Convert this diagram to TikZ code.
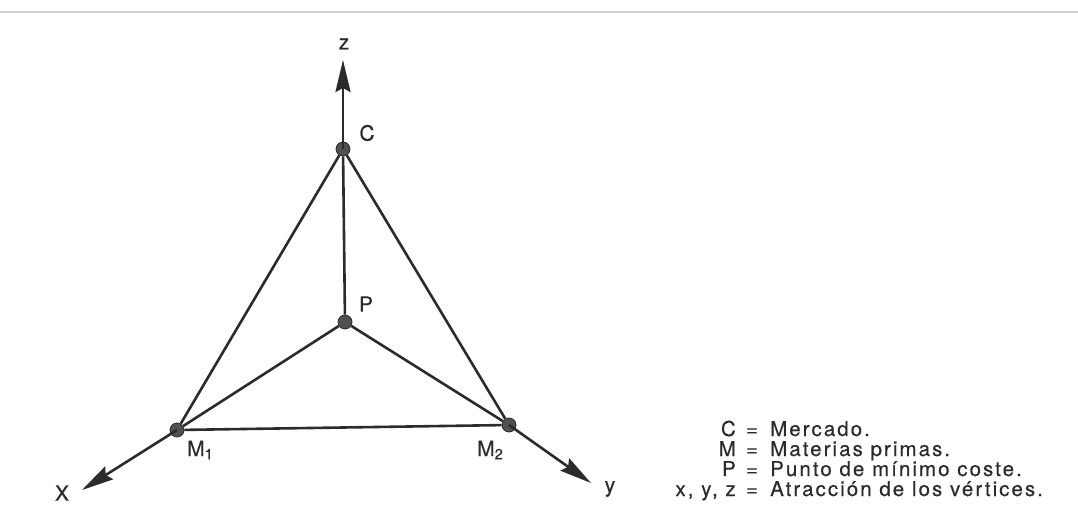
\documentclass[tikz,border=0pt]{standalone}
\usepackage{fontspec}
\setmainfont{TeX Gyre Heros}[LetterSpace=10,FakeBold=0.4]
\usetikzlibrary{arrows.meta}
\definecolor{ink}{HTML}{2B2B2B}
\definecolor{dotfill}{HTML}{505050}
\tikzset{
  edge/.style={draw=ink, line width=2.6pt},
  axis/.style={draw=ink, line width=2.6pt, -{Stealth[length=32pt,width=15pt,inset=4pt]}},
  vertex/.style={circle, fill=dotfill, draw=ink, line width=0.8pt, minimum size=14pt, inner sep=0pt},
  lbl/.style={font=\fontsize{21}{24}\selectfont, text=ink, inner sep=0pt},
  leg/.style={font=\fontsize{20.5}{24}\selectfont, text=ink, inner sep=0pt, text height=14.5pt, text depth=3pt},
}
\begin{document}
\begin{tikzpicture}[x=1pt,y=-1pt]
\useasboundingbox (0,0) rectangle (1078,529);
\draw[gray!35, line width=2pt] (0,12) -- (1078,12);
% points
\node[vertex] (C) at (343,149) {};
\node[vertex] (P) at (345,322) {};
\node[vertex] (M1) at (177,430) {};
\node[vertex] (M2) at (509,425) {};
\coordinate (zt) at (343,60);
\coordinate (xt) at (82,490);
\coordinate (yt) at (591,483);
% edges
\draw[edge] (C) -- (M1);
\draw[edge] (C) -- (M2);
\draw[edge] (M1) -- (M2);
\draw[edge] (C) -- (P);
\draw[edge] (P) -- (M1);
\draw[edge] (P) -- (M2);
% axes
\draw[axis] (C.center) -- (zt);
\draw[axis] (M1.center) -- (xt);
\draw[axis] (M2.center) -- (yt);
% labels
\node[lbl] (lz) at (344,44) {z};
\node[lbl] (lC) at (367,133) {C};
\node[lbl] (lP) at (366,304) {P};
\node[lbl, anchor=west] (lM1) at (187,450) {M$_{\mathrm{1}}$};
\node[lbl, anchor=west] (lM2) at (477,450) {M$_{\mathrm{2}}$};
\node[lbl] (lX) at (62,493) {X};
\node[lbl] (ly) at (610,489) {y};
% legend
\node[leg, anchor=base east] (k1) at (736,436) {C};
\node[leg, anchor=base east] (k2) at (736,456) {M};
\node[leg, anchor=base east] (k3) at (736,476) {P};
\node[leg, anchor=base east] (k4) at (736,496) {x, y, z};
\node[leg, anchor=base] (e1) at (752,436) {=};
\node[leg, anchor=base] (e2) at (752,456) {=};
\node[leg, anchor=base] (e3) at (752,476) {=};
\node[leg, anchor=base] (e4) at (752,496) {=};
\node[leg, anchor=base west] (v1) at (770,436) {Mercado.};
\node[leg, anchor=base west] (v2) at (770,456) {Materias primas.};
\node[leg, anchor=base west] (v3) at (770,476) {Punto de mínimo coste.};
\node[leg, anchor=base west] (v4) at (770,496) {Atracción de los vértices.};
\end{tikzpicture}
\end{document}
